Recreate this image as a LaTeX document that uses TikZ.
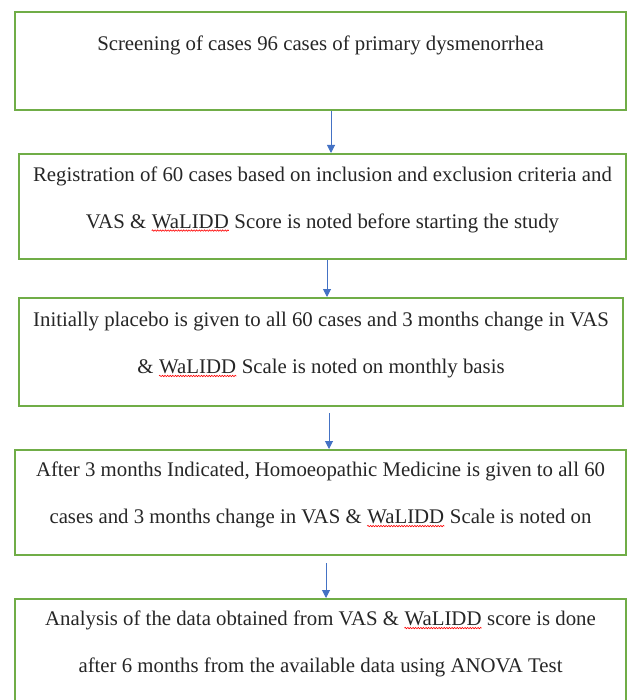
\documentclass[tikz,border=0pt]{standalone}
\usepackage{fontspec}
\setmainfont{Liberation Serif}
\usetikzlibrary{arrows.meta, positioning, decorations.pathmorphing}
\definecolor{boxgreen}{RGB}{112,173,71}
\definecolor{flowblue}{RGB}{68,114,196}
\tikzset{>={Triangle[length=8pt,width=8pt]}}
\newcommand{\spellmark}[1]{\tikz[baseline=(w.base)]{\node[inner sep=0pt] (w) {#1};
    \draw[red, line width=0.6pt, decorate, decoration={snake, amplitude=0.7pt, segment length=2.6pt}]
      ([yshift=-2.5pt]w.base west) -- ([yshift=-2.5pt]w.base east);}}

\begin{document}
\begin{tikzpicture}[x=1pt, y=-1pt,
    stepbox/.style={draw=boxgreen, line width=2pt, inner sep=0pt, fill=white},
    steptext/.style={align=center, inner sep=0pt, font=\fontsize{20.8}{47}\selectfont, text=black!85},
    flow/.style={->, draw=flowblue, fill=flowblue, line width=1pt}]

      \useasboundingbox (0,0) rectangle (627,700);
      \clip (0,0) rectangle (627,700);

      % boxes
      \node[stepbox, minimum width=611pt, minimum height=98pt]  (B1) at (320.5,61)  {};
      \node[stepbox, minimum width=607pt, minimum height=105pt] (B2) at (322.5,206.5) {};
      \node[stepbox, minimum width=604pt, minimum height=108pt] (B3) at (321,352)  {};
      \node[stepbox, minimum width=611pt, minimum height=105pt] (B4) at (320.5,502.5) {};
      \node[stepbox, minimum width=611pt, minimum height=110pt] (B5) at (320.5,654) {};

      % texts
      \node[steptext] (T1) at (320.5,45) {Screening of cases 96 cases of primary dysmenorrhea};
      \node[steptext] (T2) at (322.5,199.5) {Registration of 60 cases based on inclusion and exclusion criteria and\\
        VAS \& \spellmark{WaLIDD} Score is noted before starting the study};
      \node[steptext] (T3) at (321,345) {Initially placebo is given to all 60 cases and 3 months change in VAS\\
        \& \spellmark{WaLIDD} Scale is noted on monthly basis};
      \node[steptext] (T4) at (320.5,495) {After 3 months Indicated, Homoeopathic Medicine is given to all 60\\
        cases and 3 months change in VAS \& \spellmark{WaLIDD} Scale is noted on};
      \node[steptext] (T5) at (320.5,644) {Analysis of the data obtained from VAS \& \spellmark{WaLIDD} score is done\\
        after 6 months from the available data using ANOVA Test};

      % arrows
      \draw[flow] ([xshift=10.5pt]B1.south) -- ([xshift=10.5pt]B1.south |- B2.north);
      \draw[flow] ([xshift=4.5pt]B2.south) -- ([xshift=4.5pt]B2.south |- B3.north);
      \draw[flow, shorten <=6pt] ([xshift=8pt]B3.south) -- ([xshift=8pt]B3.south |- B4.north);
      \draw[flow, shorten <=7pt] ([xshift=5.5pt]B4.south) -- ([xshift=5.5pt]B4.south |- B5.north);
\end{tikzpicture}
\end{document}
